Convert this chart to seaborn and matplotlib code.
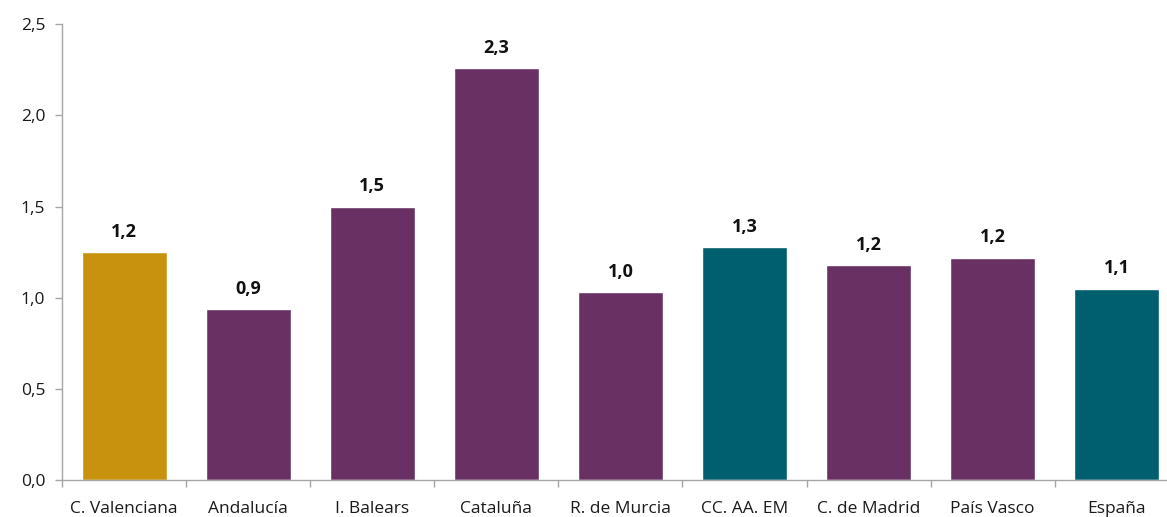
import matplotlib
matplotlib.use("Agg")
import matplotlib.pyplot as plt
import seaborn as sns
import pandas as pd
from matplotlib.ticker import FuncFormatter, FixedLocator

# Datos
regiones = ["C. Valenciana", "Andalucía", "I. Balears", "Cataluña", "R. de Murcia",
            "CC. AA. EM", "C. de Madrid", "País Vasco", "España"]
valores = [1.25, 0.94, 1.50, 2.26, 1.03, 1.28, 1.18, 1.22, 1.05]
colores = ["#C8920F", "#693163", "#693163", "#693163", "#693163",
           "#005F6E", "#693163", "#693163", "#005F6E"]
yticks = [0.0, 0.5, 1.0, 1.5, 2.0, 2.5]

sns.set_theme(style="white")
plt.rcParams["font.family"] = ["Open Sans", "DejaVu Sans"]

df = pd.DataFrame({"region": regiones, "valor": valores})

fig = plt.figure(figsize=(11.67, 5.17), dpi=100)
# el área de trazado se extiende algo más allá del borde derecho de la figura
ax = fig.add_axes([0.0531, 0.0716, 0.957, 0.8814])

sns.barplot(data=df, x="region", y="valor", hue="region", palette=colores,
            width=0.685, saturation=1, legend=False, ax=ax)

ax.set_ylim(0, 2.5)
ax.set_xlim(-0.5, len(regiones) - 0.5)
ax.set_yticks(yticks)
ax.yaxis.set_major_formatter(FuncFormatter(lambda v, p: f"{v:.1f}".replace(".", ",")))
ax.set_xlabel("")
ax.set_ylabel("")

# separadores entre categorías en el eje X
ax.xaxis.set_minor_locator(FixedLocator([i - 0.5 for i in range(len(regiones))]))
ax.tick_params(axis="x", which="major", length=0, pad=15, labelsize=12.5, labelcolor="#1a1a1a")
ax.tick_params(axis="x", which="minor", length=5, width=1.0, color="#A6A6A6", direction="out", bottom=True)
ax.tick_params(axis="y", which="major", length=5, width=1.0, color="#A6A6A6", direction="out",
               left=True, pad=7, labelsize=12.5, labelcolor="#1a1a1a")

for side in ["top", "right"]:
    ax.spines[side].set_visible(False)
for side in ["left", "bottom"]:
    ax.spines[side].set_color("#A6A6A6")
    ax.spines[side].set_linewidth(1.0)

for bar, v in zip(ax.patches, valores):
    ax.annotate(f"{v:.1f}".replace(".", ","),
                (bar.get_x() + bar.get_width() / 2, bar.get_height()),
                xytext=(0, 8), textcoords="offset points",
                ha="center", va="bottom", fontsize=13, fontweight="bold", color="#111111")

fig.savefig("out.png", dpi=100)
